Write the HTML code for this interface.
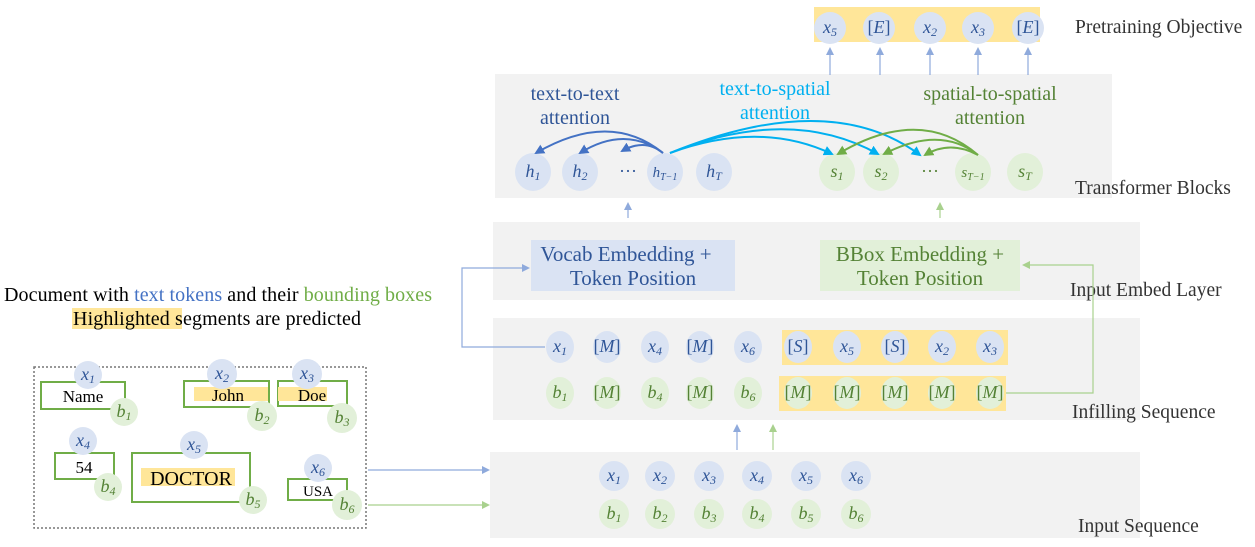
<!DOCTYPE html>
<html><head><meta charset="utf-8"><style>
body{margin:0;background:#fff}
svg text{font-family:"Liberation Serif",serif}
.m{font-style:italic;font-size:18px}
.b{fill:#2f5597}.g{fill:#548235}
.lab{font-size:19.5px;fill:#333}
</style></head><body>
<svg width="1255" height="542" viewBox="0 0 1255 542" xmlns="http://www.w3.org/2000/svg">
<defs>
<marker id="ab" markerWidth="8" markerHeight="8" refX="6" refY="4" orient="auto" markerUnits="userSpaceOnUse"><path d="M0,0 L8,4 L0,8z" fill="#8faadc"/></marker>
<marker id="ag" markerWidth="8" markerHeight="8" refX="6" refY="4" orient="auto" markerUnits="userSpaceOnUse"><path d="M0,0 L8,4 L0,8z" fill="#a9d18e"/></marker>
<marker id="at" markerWidth="10" markerHeight="10" refX="8" refY="5" orient="auto" markerUnits="userSpaceOnUse"><path d="M0,0 L10,5 L0,10z" fill="#4472c4"/></marker>
<marker id="as" markerWidth="10" markerHeight="10" refX="8" refY="5" orient="auto" markerUnits="userSpaceOnUse"><path d="M0,0 L10,5 L0,10z" fill="#00b0f0"/></marker>
<marker id="ass" markerWidth="10" markerHeight="10" refX="8" refY="5" orient="auto" markerUnits="userSpaceOnUse"><path d="M0,0 L10,5 L0,10z" fill="#70ad47"/></marker>
</defs>
<rect x="495" y="74" width="617" height="124" fill="#f2f2f2"/>
<rect x="493" y="222" width="647" height="78" fill="#f2f2f2"/>
<rect x="493" y="318" width="647" height="102" fill="#f2f2f2"/>
<rect x="490" y="452" width="650" height="86" fill="#f2f2f2"/>
<rect x="814" y="7" width="226" height="35" fill="#ffe699"/>
<g fill="#dae3f3"><circle cx="830" cy="28" r="16"/><circle cx="879" cy="28" r="16"/><circle cx="930" cy="28" r="16"/><circle cx="978" cy="28" r="16"/><circle cx="1028" cy="28" r="16"/></g>
<g class="m b" text-anchor="middle"><text x="830" y="33">x<tspan font-size="12" dy="3">5</tspan></text><text x="879" y="33" font-style="normal">[<tspan font-style="italic">E</tspan>]</text><text x="930" y="33">x<tspan font-size="12" dy="3">2</tspan></text><text x="978" y="33">x<tspan font-size="12" dy="3">3</tspan></text><text x="1028" y="33" font-style="normal">[<tspan font-style="italic">E</tspan>]</text></g>
<g stroke="#8faadc" stroke-width="1.2" marker-end="url(#ab)"><line x1="830" y1="75" x2="830" y2="49"/><line x1="880" y1="75" x2="880" y2="49"/><line x1="930" y1="75" x2="930" y2="49"/><line x1="978" y1="75" x2="978" y2="49"/><line x1="1028" y1="75" x2="1028" y2="49"/></g>
<text class="lab" x="1075" y="33">Pretraining Objective</text>
<g fill="#dae3f3"><ellipse cx="533" cy="172" rx="18" ry="19"/><ellipse cx="580" cy="172" rx="18" ry="19"/><ellipse cx="665" cy="172" rx="18" ry="19"/><ellipse cx="714" cy="172" rx="18" ry="19"/></g>
<g fill="#e2f0d9"><ellipse cx="837" cy="172" rx="18" ry="19"/><ellipse cx="881" cy="172" rx="18" ry="19"/><ellipse cx="973" cy="172" rx="18" ry="19"/><ellipse cx="1025" cy="172" rx="18" ry="19"/></g>
<g class="m b" text-anchor="middle"><text x="533" y="177">h<tspan font-size="12" dy="3">1</tspan></text><text x="580" y="177">h<tspan font-size="12" dy="3">2</tspan></text><text x="628" y="177" font-style="normal">···</text><text x="665" y="177" font-size="15">h<tspan font-size="10" dy="3">T−1</tspan></text><text x="714" y="177">h<tspan font-size="12" dy="3">T</tspan></text></g>
<g class="m g" text-anchor="middle"><text x="837" y="177">s<tspan font-size="12" dy="3">1</tspan></text><text x="881" y="177">s<tspan font-size="12" dy="3">2</tspan></text><text x="930" y="177" font-style="normal">···</text><text x="973" y="177" font-size="15">s<tspan font-size="10" dy="3">T−1</tspan></text><text x="1025" y="177">s<tspan font-size="12" dy="3">T</tspan></text></g>
<text x="575" y="100" font-size="20" fill="#2f5597" text-anchor="middle">text-to-text</text>
<text x="575" y="124" font-size="20" fill="#2f5597" text-anchor="middle">attention</text>
<text x="775" y="95" font-size="20" fill="#00b0f0" text-anchor="middle">text-to-spatial</text>
<text x="775" y="119" font-size="20" fill="#00b0f0" text-anchor="middle">attention</text>
<text x="990" y="100" font-size="20" fill="#548235" text-anchor="middle">spatial-to-spatial</text>
<text x="990" y="124" font-size="20" fill="#548235" text-anchor="middle">attention</text>
<g fill="none" stroke="#4472c4" stroke-width="2" marker-end="url(#at)">
<path d="M663,153 Q610,110 536,153"/><path d="M663,153 Q625,125 580,153"/><path d="M663,153 Q645,138 622,151"/></g>
<g fill="none" stroke="#00b0f0" stroke-width="2" marker-end="url(#as)">
<path d="M670,153 Q760,120 832,154"/><path d="M670,153 Q790,105 878,154"/><path d="M670,153 Q830,88 920,155"/></g>
<g fill="none" stroke="#70ad47" stroke-width="2" marker-end="url(#ass)">
<path d="M978,155 Q920,105 838,154"/><path d="M978,155 Q940,125 884,154"/><path d="M978,155 Q950,140 925,155"/></g>
<text class="lab" x="1075" y="194">Transformer Blocks</text>
<line x1="628" y1="218" x2="628" y2="204" stroke="#8faadc" stroke-width="1.2" marker-end="url(#ab)"/>
<line x1="940" y1="218" x2="940" y2="204" stroke="#a9d18e" stroke-width="1.2" marker-end="url(#ag)"/>
<rect x="531" y="240" width="204" height="51" fill="#dae3f3"/>
<rect x="820" y="240" width="200" height="51" fill="#e2f0d9"/>
<text x="626" y="261" font-size="21" fill="#2f5597" text-anchor="middle">Vocab Embedding +</text>
<text x="633" y="285" font-size="21" fill="#2f5597" text-anchor="middle">Token Position</text>
<text x="920" y="261" font-size="21" fill="#548235" text-anchor="middle">BBox Embedding +</text>
<text x="920" y="285" font-size="21" fill="#548235" text-anchor="middle">Token Position</text>
<text class="lab" x="1070" y="296">Input Embed Layer</text>
<rect x="782" y="330" width="226" height="35" fill="#ffe699"/>
<rect x="779" y="376" width="227" height="35" fill="#ffe699"/>
<g fill="#dae3f3"><ellipse cx="560" cy="347" rx="14" ry="16"/><ellipse cx="607" cy="347" rx="14" ry="16"/><ellipse cx="655" cy="347" rx="14" ry="16"/><ellipse cx="700" cy="347" rx="14" ry="16"/><ellipse cx="748" cy="347" rx="14" ry="16"/><ellipse cx="798" cy="347" rx="14" ry="16"/><ellipse cx="847" cy="347" rx="14" ry="16"/><ellipse cx="895" cy="347" rx="14" ry="16"/><ellipse cx="942" cy="347" rx="14" ry="16"/><ellipse cx="990" cy="347" rx="14" ry="16"/></g>
<g fill="#e2f0d9"><ellipse cx="560" cy="393" rx="14" ry="16"/><ellipse cx="607" cy="393" rx="14" ry="16"/><ellipse cx="655" cy="393" rx="14" ry="16"/><ellipse cx="700" cy="393" rx="14" ry="16"/><ellipse cx="748" cy="393" rx="14" ry="16"/><ellipse cx="798" cy="393" rx="14" ry="16"/><ellipse cx="847" cy="393" rx="14" ry="16"/><ellipse cx="895" cy="393" rx="14" ry="16"/><ellipse cx="942" cy="393" rx="14" ry="16"/><ellipse cx="990" cy="393" rx="14" ry="16"/></g>
<g class="m b" text-anchor="middle"><text x="560" y="352">x<tspan font-size="12" dy="3">1</tspan></text><text x="607" y="352" font-style="normal">[<tspan font-style="italic">M</tspan>]</text><text x="655" y="352">x<tspan font-size="12" dy="3">4</tspan></text><text x="700" y="352" font-style="normal">[<tspan font-style="italic">M</tspan>]</text><text x="748" y="352">x<tspan font-size="12" dy="3">6</tspan></text><text x="798" y="352" font-style="normal">[<tspan font-style="italic">S</tspan>]</text><text x="847" y="352">x<tspan font-size="12" dy="3">5</tspan></text><text x="895" y="352" font-style="normal">[<tspan font-style="italic">S</tspan>]</text><text x="942" y="352">x<tspan font-size="12" dy="3">2</tspan></text><text x="990" y="352">x<tspan font-size="12" dy="3">3</tspan></text></g>
<g class="m g" text-anchor="middle"><text x="560" y="398">b<tspan font-size="12" dy="3">1</tspan></text><text x="607" y="398" font-style="normal">[<tspan font-style="italic">M</tspan>]</text><text x="655" y="398">b<tspan font-size="12" dy="3">4</tspan></text><text x="700" y="398" font-style="normal">[<tspan font-style="italic">M</tspan>]</text><text x="748" y="398">b<tspan font-size="12" dy="3">6</tspan></text><text x="798" y="398" font-style="normal">[<tspan font-style="italic">M</tspan>]</text><text x="847" y="398" font-style="normal">[<tspan font-style="italic">M</tspan>]</text><text x="895" y="398" font-style="normal">[<tspan font-style="italic">M</tspan>]</text><text x="942" y="398" font-style="normal">[<tspan font-style="italic">M</tspan>]</text><text x="990" y="398" font-style="normal">[<tspan font-style="italic">M</tspan>]</text></g>
<polyline points="545,347 462,347 462,268 528,268" fill="none" stroke="#8faadc" stroke-width="1.2" marker-end="url(#ab)"/>
<polyline points="1006,393 1093,393 1093,265 1024,265" fill="none" stroke="#a9d18e" stroke-width="1.2" marker-end="url(#ag)"/>
<line x1="737" y1="450" x2="737" y2="426" stroke="#8faadc" stroke-width="1.2" marker-end="url(#ab)"/>
<line x1="773" y1="450" x2="773" y2="426" stroke="#a9d18e" stroke-width="1.2" marker-end="url(#ag)"/>
<text class="lab" x="1072" y="418">Infilling Sequence</text>
<g fill="#dae3f3"><ellipse cx="614" cy="476" rx="15" ry="15"/><ellipse cx="660" cy="476" rx="15" ry="15"/><ellipse cx="709" cy="476" rx="15" ry="15"/><ellipse cx="757" cy="476" rx="15" ry="15"/><ellipse cx="806" cy="476" rx="15" ry="15"/><ellipse cx="856" cy="476" rx="15" ry="15"/></g>
<g fill="#e2f0d9"><ellipse cx="614" cy="514" rx="15" ry="15"/><ellipse cx="660" cy="514" rx="15" ry="15"/><ellipse cx="709" cy="514" rx="15" ry="15"/><ellipse cx="757" cy="514" rx="15" ry="15"/><ellipse cx="806" cy="514" rx="15" ry="15"/><ellipse cx="856" cy="514" rx="15" ry="15"/></g>
<g class="m b" text-anchor="middle"><text x="614" y="481">x<tspan font-size="12" dy="3">1</tspan></text><text x="660" y="481">x<tspan font-size="12" dy="3">2</tspan></text><text x="709" y="481">x<tspan font-size="12" dy="3">3</tspan></text><text x="757" y="481">x<tspan font-size="12" dy="3">4</tspan></text><text x="806" y="481">x<tspan font-size="12" dy="3">5</tspan></text><text x="856" y="481">x<tspan font-size="12" dy="3">6</tspan></text></g>
<g class="m g" text-anchor="middle"><text x="614" y="519">b<tspan font-size="12" dy="3">1</tspan></text><text x="660" y="519">b<tspan font-size="12" dy="3">2</tspan></text><text x="709" y="519">b<tspan font-size="12" dy="3">3</tspan></text><text x="757" y="519">b<tspan font-size="12" dy="3">4</tspan></text><text x="806" y="519">b<tspan font-size="12" dy="3">5</tspan></text><text x="856" y="519">b<tspan font-size="12" dy="3">6</tspan></text></g>
<text class="lab" x="1078" y="532">Input Sequence</text>
<line x1="368" y1="470" x2="488" y2="470" stroke="#8faadc" stroke-width="1.2" marker-end="url(#ab)"/>
<line x1="368" y1="505" x2="488" y2="505" stroke="#a9d18e" stroke-width="1.2" marker-end="url(#ag)"/>
<text x="218" y="301" font-size="20" text-anchor="middle" fill="#000" textLength="428">Document with <tspan fill="#4472c4">text tokens</tspan> and their <tspan fill="#70ad47">bounding boxes</tspan></text>
<rect x="72" y="308" width="110" height="21" fill="#ffe699"/>
<text x="73" y="325" font-size="20" fill="#000" textLength="288">Highlighted segments are predicted</text>
<rect x="34" y="367" width="332" height="161" fill="none" stroke="#777" stroke-width="1.5" stroke-dasharray="2,2"/>
<g fill="none" stroke="#70ad47" stroke-width="2">
<rect x="41" y="382" width="84" height="27"/><rect x="184" y="381" width="85" height="26"/><rect x="278" y="381" width="69" height="25"/>
<rect x="55" y="453" width="59" height="26"/><rect x="132" y="453" width="118" height="49"/><rect x="288" y="479" width="59" height="21"/></g>
<rect x="194" y="387" width="74" height="14" fill="#ffe699"/><rect x="278" y="387" width="49" height="14" fill="#ffe699"/><rect x="141" y="468" width="94" height="18" fill="#ffe699"/>
<g font-size="17" text-anchor="middle" fill="#000"><text x="83" y="402">Name</text><text x="228" y="401">John</text><text x="312" y="401">Doe</text><text x="84" y="473">54</text><text x="191" y="485" font-size="20">DOCTOR</text><text x="318" y="496" font-size="15">USA</text></g>
<g fill="#dae3f3"><circle cx="88" cy="375" r="14"/><circle cx="222" cy="374" r="15"/><circle cx="307" cy="374" r="15"/><circle cx="83" cy="441" r="14"/><circle cx="194" cy="445" r="14"/><circle cx="318" cy="468" r="14"/></g>
<g fill="#e2f0d9"><circle cx="124" cy="412" r="14"/><circle cx="262" cy="416" r="15"/><circle cx="342" cy="418" r="15"/><circle cx="108" cy="487" r="14"/><circle cx="253" cy="500" r="14"/><circle cx="347" cy="505" r="15"/></g>
<g class="m b" text-anchor="middle"><text x="88" y="380">x<tspan font-size="12" dy="3">1</tspan></text><text x="222" y="379">x<tspan font-size="12" dy="3">2</tspan></text><text x="307" y="379">x<tspan font-size="12" dy="3">3</tspan></text><text x="83" y="446">x<tspan font-size="12" dy="3">4</tspan></text><text x="194" y="450">x<tspan font-size="12" dy="3">5</tspan></text><text x="318" y="473">x<tspan font-size="12" dy="3">6</tspan></text></g>
<g class="m g" text-anchor="middle"><text x="124" y="417">b<tspan font-size="12" dy="3">1</tspan></text><text x="262" y="421">b<tspan font-size="12" dy="3">2</tspan></text><text x="342" y="423">b<tspan font-size="12" dy="3">3</tspan></text><text x="108" y="492">b<tspan font-size="12" dy="3">4</tspan></text><text x="253" y="505">b<tspan font-size="12" dy="3">5</tspan></text><text x="347" y="510">b<tspan font-size="12" dy="3">6</tspan></text></g>
</svg>
</body></html>
